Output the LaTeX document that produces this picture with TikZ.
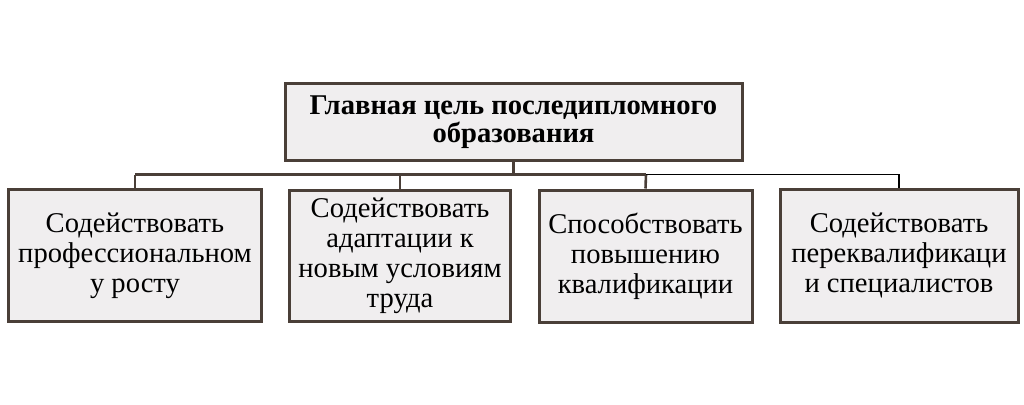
\documentclass[tikz,border=0pt]{standalone}
\usepackage{fontspec}
\setmainfont{Liberation Serif}
\definecolor{edge}{HTML}{4A3F38}
\definecolor{boxfill}{HTML}{F0EEEF}
\begin{document}
\begin{tikzpicture}[x=1pt,y=-1pt,
  box/.style={draw=edge,fill=boxfill,line width=3pt,inner sep=0pt,align=center,font=\fontsize{28.6}{30}\selectfont},
  link/.style={draw=edge,line width=2.6pt},
  blink/.style={draw=black,line width=1.8pt}]
\useasboundingbox (0,0) rectangle (1024,404);
\node[box,minimum width=457pt,minimum height=77pt,font=\fontsize{28.6}{28.5}\selectfont\bfseries] (top) at (513.5,122) {Главная цель последипломного\\образования};
\node[box,minimum width=253pt,minimum height=132pt] (b1) at (135,255.5) {Содействовать\\профессиональном\\у росту};
\node[box,minimum width=221pt,minimum height=131pt] (b2) at (400,256) {Содействовать\\адаптации к\\новым условиям\\труда};
\node[box,minimum width=213pt,minimum height=132pt] (b3) at (645.5,256) {Способствовать\\повышению\\квалификации};
\node[box,minimum width=238pt,minimum height=133pt] (b4) at (899,255.5) {Содействовать\\переквалификаци\\и специалистов};
\coordinate (j) at (513.5,174.5);
\coordinate (hl) at (135,174.5);
\coordinate (hm) at (646,174.5);
\coordinate (hr) at (899,174.5);
\draw[link] (top.south) -- (j);
\draw[link] (hl) -- (hm);
\draw[link] (hl) -- (b1.north);
\draw[link] (b2.north |- hl) -- (b2.north);
\draw[link] (hm) -- (b3.north);
\draw[blink] (hm) -- (hr) -- (b4.north);
\end{tikzpicture}
\end{document}
